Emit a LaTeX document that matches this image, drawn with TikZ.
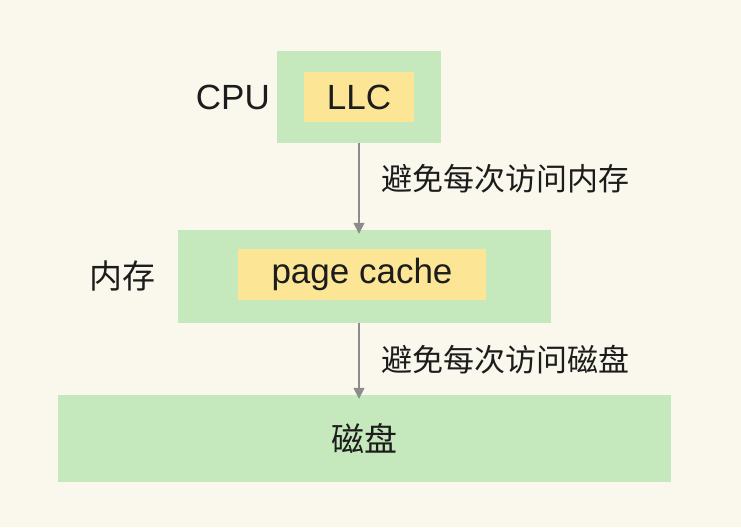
\documentclass[tikz,border=0pt]{standalone}
\usepackage{fontspec}
\setmainfont{Noto Sans CJK SC}
\newfontfamily\latinfont{Liberation Sans}
\usetikzlibrary{arrows.meta}
\definecolor{bgcream}{RGB}{250,248,236}
\definecolor{boxgreen}{RGB}{197,232,188}
\definecolor{boxyellow}{RGB}{252,230,150}
\definecolor{linegray}{RGB}{140,140,140}
\definecolor{inkblack}{RGB}{28,28,28}

\begin{document}
\begin{tikzpicture}[x=1pt,y=-1pt,
  outerbox/.style={fill=boxgreen,inner sep=0pt,text=inkblack,font=\fontsize{33}{36}\selectfont},
  innerbox/.style={fill=boxyellow,inner sep=0pt,text=inkblack,font=\latinfont\fontsize{35}{38}\selectfont},
  bigtext/.style={inner sep=0pt,text=inkblack,font=\fontsize{33}{36}\selectfont},
  notetext/.style={inner sep=0pt,anchor=west,text=inkblack,font=\fontsize{31}{34}\selectfont},
  link/.style={draw=linegray,line width=1.5pt,shorten >=-4pt,-{Triangle[width=11pt,length=11pt]}}]
\fill[bgcream] (0,0) rectangle (741,527);

\node[outerbox,minimum width=164pt,minimum height=92pt] (cpu) at (359,97) {};
\node[innerbox,minimum width=110pt,minimum height=50pt] (llc) at (359,97) {LLC};
\node[bigtext,anchor=east,font=\latinfont\fontsize{35}{38}\selectfont] (cpulabel) at (270,97) {CPU};

\node[outerbox,minimum width=373pt,minimum height=93pt] (mem) at (364.5,276.5) {};
\node[innerbox,minimum width=248pt,minimum height=51pt] (pagecache) at (362,274.5) {page cache};
\node[bigtext,anchor=east] (memlabel) at (156,276) {内存};

\node[outerbox,minimum width=613pt,minimum height=87pt] (disk) at (364.5,438.5) {磁盘};

\draw[link] (cpu.south) -- (cpu.south |- mem.north);
\draw[link] (mem.south -| cpu.south) -- (cpu.south |- disk.north);

\node[notetext] (note1) at (381,179) {避免每次访问内存};
\node[notetext] (note2) at (381,360) {避免每次访问磁盘};
\end{tikzpicture}
\end{document}
